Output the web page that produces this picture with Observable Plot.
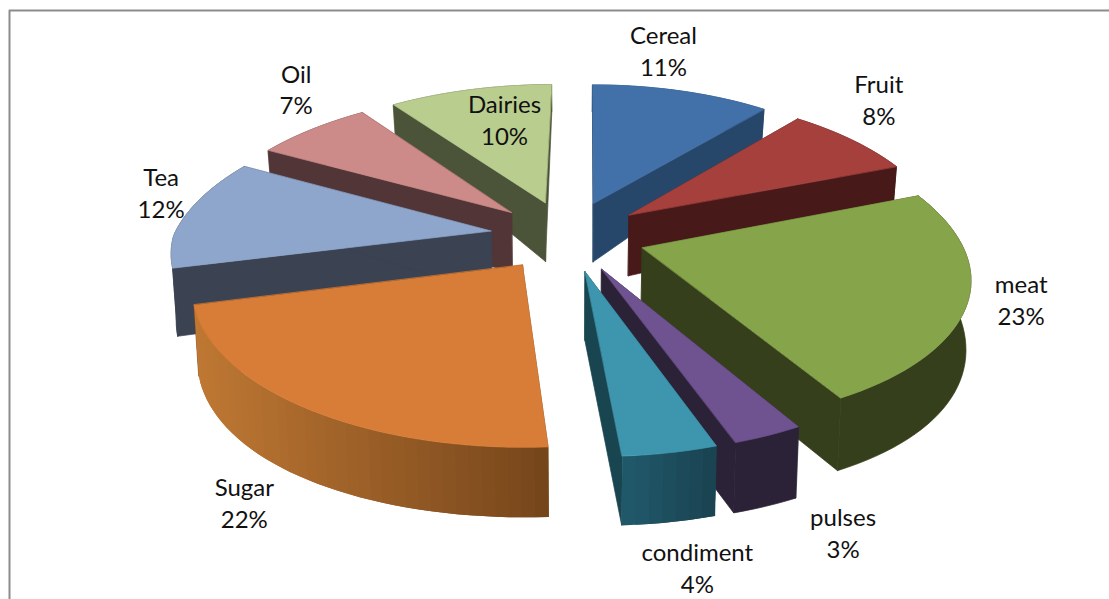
<!DOCTYPE html>
<html>
<head>
<meta charset="utf-8">
<style>html,body{margin:0;padding:0;background:#fff;overflow:hidden}svg{display:block}</style>
<script src="https://cdn.jsdelivr.net/npm/d3@7"></script>
<script src="https://cdn.jsdelivr.net/npm/@observablehq/plot@0.6"></script>
</head>
<body>
<script>
const categories = ["Cereal","Fruit","meat","pulses","condiment","Sugar","Tea","Oil","Dairies"];
const shares = [11,8,23,3,4,22,12,7,10];
const topColors = ["#4270a8","#a5403d","#86a44a","#6f5390","#3e96ae","#d77d37","#8fa6cc","#cc8b89","#b9cd8e"];
const radialColors = ["#26476a","#471919","#353f1b","#2c2238","#194550","#7a4a1e","#3b4252","#523637","#4b5338"];
const rimLight = ["#26476a","#471919","#353f1b","#2c2238","#215a6c","#bf7833","#3b4252","#523637","#4b5338"];
const rimDark = ["#26476a","#471919","#353f1b","#2c2238","#1a4250","#75451b","#3b4252","#523637","#4b5338"];
const labelOffsets = [[-18,-41],[27,-41],[53,-2],[75,96],[27,114],[-60,94],[-26,-22],[-16,-41],[34,29]];
const paintOrder = [0,8,1,7,2,6,5,3,4];

// Perspective model of the exploded disc (unit radius)
const explode = 0.245;
const topPlane = {cx:567, cy:235, ax:317, ay:145, kFar:0.18, kNear:0.15, ky:0.15, shearNear:10, shearFar:3};
const lowPlane = {cx:567, cy:299, ax:313, ay:166, kFar:0.18, kNear:0.15, ky:0.0725, shearNear:10, shearFar:3};
const project = (p,u,v) => [
  p.cx + p.ax*u/(1+(v>0?p.kFar:p.kNear)*v) + (v>0?p.shearFar*v:-p.shearNear*v),
  p.cy - p.ay*v/(1+p.ky*v)
];
const rad = d => d*Math.PI/180;

const total = d3.sum(shares);
let acc = 0;
const slices = shares.map((s,i)=>{
  const a0 = acc/total*360; acc += s; const a1 = acc/total*360;
  const mid = (a0+a1)/2;
  return {i,a0,a1,mid,ou:explode*Math.sin(rad(mid)),ov:explode*Math.cos(rad(mid))};
});

const rimPoint = (s,a)=>[s.ou+Math.sin(rad(a)), s.ov+Math.cos(rad(a))];
let pid = 0;
const toRows = (pts,color)=>{const id=pid++; return pts.map(([x,y])=>({x,y,id,color}));};
const edged = rows => Plot.line(rows,{x:"x",y:"y",z:"id",fill:d=>d.color,stroke:d=>d.color,strokeWidth:0.7,curve:"linear-closed"});
const plain = rows => Plot.line(rows,{x:"x",y:"y",z:"id",fill:d=>d.color,curve:"linear-closed"});

const sliceMarks = paintOrder.flatMap(idx=>{
  const s = slices[idx];
  const steps = Math.max(6,Math.round((s.a1-s.a0)/2));
  const rim = d3.range(steps+1).map(j=>rimPoint(s,s.a0+(s.a1-s.a0)*j/steps));
  const apexT = project(topPlane,s.ou,s.ov), apexL = project(lowPlane,s.ou,s.ov);
  const rimT = rim.map(([u,v])=>project(topPlane,u,v));
  const rimL = rim.map(([u,v])=>project(lowPlane,u,v));
  const walls = [
    ...toRows([apexT,rimT[0],rimL[0],apexL],radialColors[idx]),
    ...toRows([apexT,rimT[steps],rimL[steps],apexL],radialColors[idx])
  ];
  const marks = [edged(walls)];
  if(rimLight[idx]===rimDark[idx]){
    marks.push(edged(toRows([...rimT,...rimL.slice().reverse()],rimLight[idx])));
  } else {
    // bands overlap the next one so no seam shows between shades
    const shade = d3.interpolateRgb(rimLight[idx],rimDark[idx]);
    const xs = rimT.map(p=>p[0]);
    const [xa,xb] = d3.extent(xs);
    const order = xs[0]<xs[steps] ? d3.range(steps) : d3.range(steps-1,-1,-1);
    const bands = order.flatMap(j=>{
      const t = ((xs[j]+xs[j+1])/2-xa)/(xb-xa||1);
      const back = xs[0]<xs[steps] ? Math.min(j+2,steps) : j+1;
      const front = xs[0]<xs[steps] ? j : Math.max(j-1,0);
      return toRows([rimT[front],...rimT.slice(front+1,back),rimT[back],rimL[back],...rimL.slice(front+1,back).reverse(),rimL[front]],shade(t));
    });
    marks.push(plain(bands));
  }
  marks.push(edged(toRows([apexT,...rimT],topColors[idx])));
  return marks;
});

const labels = slices.map(s=>{
  const [u,v]=rimPoint(s,s.mid);
  const [x,y]=project(topPlane,u,v);
  return {x:x+labelOffsets[s.i][0], y:y+labelOffsets[s.i][1], text:`${categories[s.i]}\n${shares[s.i]}%`};
});

const border = [{x:9,y:599},{x:9,y:10},{x:1109,y:10}];

const chart = Plot.plot({
  width:1109,height:599,margin:0,
  x:{domain:[0,1109],range:[0,1109],axis:null},
  y:{domain:[0,599],range:[0,599],axis:null},
  style:{background:"#fff"},
  marks:[
    Plot.line(border,{x:"x",y:"y",stroke:"#8c8c8c",strokeWidth:2}),
    ...sliceMarks,
    Plot.text(labels,{x:"x",y:"y",text:"text",fontFamily:"Lato",fontSize:24,fill:"#111",lineHeight:1.33})
  ]
});
document.body.appendChild(chart);
</script>
</body>
</html>
